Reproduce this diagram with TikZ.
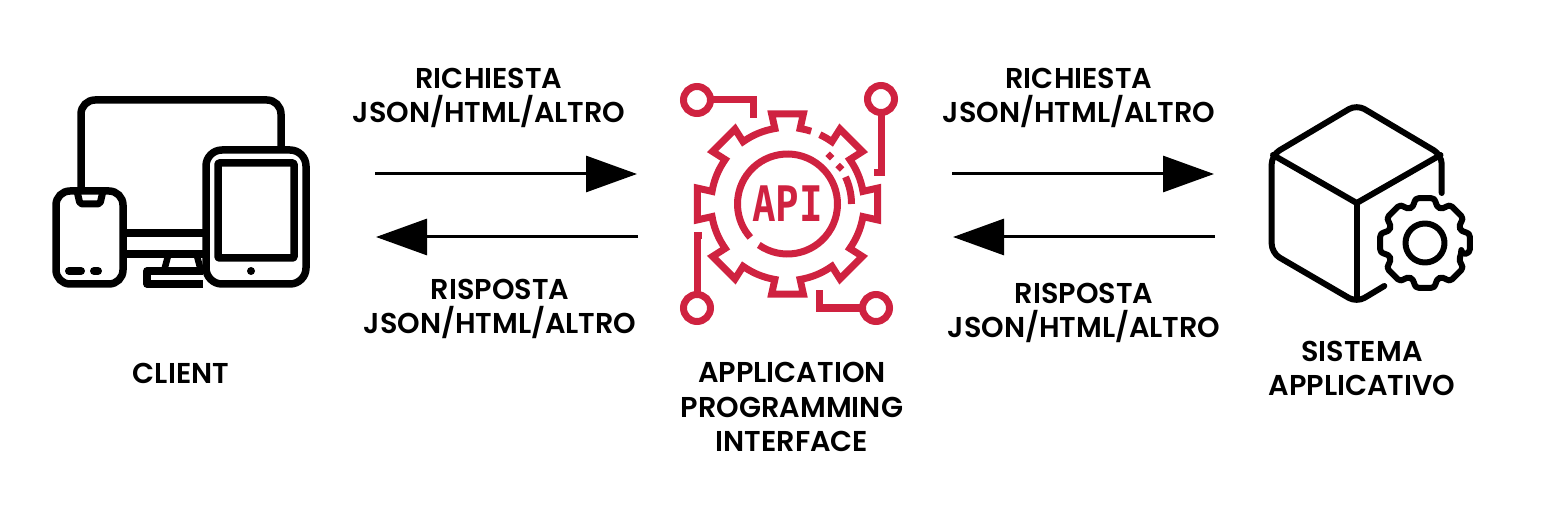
\documentclass[tikz,border=0pt]{standalone}
\usepackage{fontspec}
\setmainfont{Poppins SemiBold}
\newfontfamily\apifont{DejaVu Sans Mono}
\usetikzlibrary{arrows.meta}
\definecolor{apired}{HTML}{CF2240}
\begin{document}
\begin{tikzpicture}[x=1pt,y=1pt,
    label/.style={font=\fontsize{28.7}{34.5}\selectfont,align=center,inner sep=0pt},
    flow/.style={line width=3pt,-{Triangle[length=51pt,width=36pt]}},
    icon/.style={line width=7.5pt,line join=round},
    apiline/.style={apired,line width=7pt,line join=miter},
    cubeline/.style={line width=6pt,line cap=round,line join=round}]
    \useasboundingbox (0,0) rectangle (1543,-505);

    % Client:
    \draw [icon,rounded corners=14pt] (81,-191) -- (81,-100) -- (281,-100) -- (281,-150);
    \draw [icon] (125,-233) -- (203,-233);
    \draw [icon] (125,-254) -- (203,-254);
    \draw [line width=6.5pt] (168,-256) -- (164,-271);
    \draw [line width=6.5pt] (197,-256) -- (201,-271);
    \draw [icon] (203,-271) -- (147,-271) -- (147,-284) -- (203,-284);
    \draw [icon,rounded corners=14pt] (56,-191) rectangle (123,-284);
    \draw [icon,line width=7pt,rounded corners=2pt] (77,-191) -- (80,-204) -- (100,-204) -- (103,-191);
    \draw [line width=8pt,line cap=round] (69,-271) -- (81,-271);
    \draw [line width=8pt,line cap=round] (94,-271) -- (98,-271);
    \draw [icon,rounded corners=16pt] (206,-150) rectangle (306,-284);
    \draw [icon,rounded corners=1pt] (218,-163) rectangle (294,-258);
    \fill (251,-271) circle (4);

    % Gear of the API:
    \begin{scope}[shift={(787.5,-204)}]
    \draw [apiline] (72:76.5) arc [start angle=72,end angle=80.5,radius=76.5]
        \foreach \a in {90,135,...,360}{%
            -- (\a-10:91.5) -- (\a+10:91.5) -- (\a+9.5:76.5)
            arc [start angle=\a+9.5,end angle=\a+35.5,radius=76.5]
        }
        -- (35:91.5) -- (55:91.5) -- (54.5:76.5) arc [start angle=54.5,end angle=65,radius=76.5];
    \draw [apiline] (-125:50) arc [start angle=-125,end angle=222,radius=50];
    \draw [apiline] (0:64) arc [start angle=0,end angle=25,radius=64];
    \fill [apired] (35:64) ++(0,-4.5) -- ++(4.5,4.5) -- ++(-4.5,4.5) -- ++(-4.5,-4.5) -- cycle;
    \fill [apired] (48.6:64) ++(0,-4.5) -- ++(4.5,4.5) -- ++(-4.5,4.5) -- ++(-4.5,-4.5) -- cycle;
    \node (apitext) at (0,0) [apired,inner sep=0pt,font=\fontsize{49}{49}\apifont\bfseries,xscale=.8,transform shape] {API};
    \end{scope}

    % Circuit lines:
    \draw [apiline] (697,-100) circle (13.5);
    \draw [apiline] (711,-100) -- (753,-100) -- (753,-118);
    \draw [apiline] (881,-99) circle (13.5);
    \draw [apiline] (881,-113) -- (881,-173) -- (874,-173);
    \draw [apiline] (697,-308) circle (13.5);
    \draw [apiline] (697,-294) -- (697,-236) -- (702,-236);
    \draw [apiline] (876,-308) circle (13.5);
    \draw [apiline] (862,-308) -- (819,-308) -- (819,-290);

    % Cube:
    \draw [cubeline,rounded corners=9pt] (1441.7,-193) -- (1441.7,-155) -- (1356.7,-104.5) -- (1271.7,-155)
        -- (1271.7,-253) -- (1356.7,-302.5) -- (1384.3,-286);
    \draw [cubeline] (1273,-155) -- (1356.7,-203) -- (1440.5,-155);
    \draw [cubeline] (1356.7,-203) -- (1356.7,-299);
    \begin{scope}[shift={(1425,-243)}]
    \draw [cubeline,rounded corners=4pt] (-17:38)
        \foreach \a in {0,45,...,315}{%
            -- (\a-17:38) -- (\a-13:46) -- (\a+13:46) -- (\a+17:38)
        } -- cycle;
    \draw [cubeline] (0,0) circle (19.5);
    \end{scope}

    % Arrows:
    \coordinate (clientout) at (375,-174);
    \coordinate (apiin) at (637,-174);
    \coordinate (apiback) at (638,-237);
    \coordinate (clientin) at (376,-237);
    \coordinate (apiout) at (952,-174);
    \coordinate (sysin) at (1214,-174);
    \coordinate (sysback) at (1215,-237);
    \coordinate (apiret) at (953,-237);
    \draw [flow] (clientout) -- (apiin);
    \draw [flow] (apiback) -- (clientin);
    \draw [flow] (apiout) -- (sysin);
    \draw [flow] (sysback) -- (apiret);

    % Labels:
    \node (reqleft) at (489,-98) [label] {RICHIESTA\\JSON/HTML/ALTRO};
    \node (resleft) at (500,-309) [label] {RISPOSTA\\JSON/HTML/ALTRO};
    \node (reqright) at (1079,-98) [label] {RICHIESTA\\JSON/HTML/ALTRO};
    \node (resright) at (1084,-313) [label] {RISPOSTA\\JSON/HTML/ALTRO};
    \node (client) at (181,-373) [label] {CLIENT};
    \node (api) at (792,-407) [label] {APPLICATION\\PROGRAMMING\\INTERFACE};
    \node (sys) at (1362,-368.5) [label] {SISTEMA\\APPLICATIVO};
\end{tikzpicture}
\end{document}
